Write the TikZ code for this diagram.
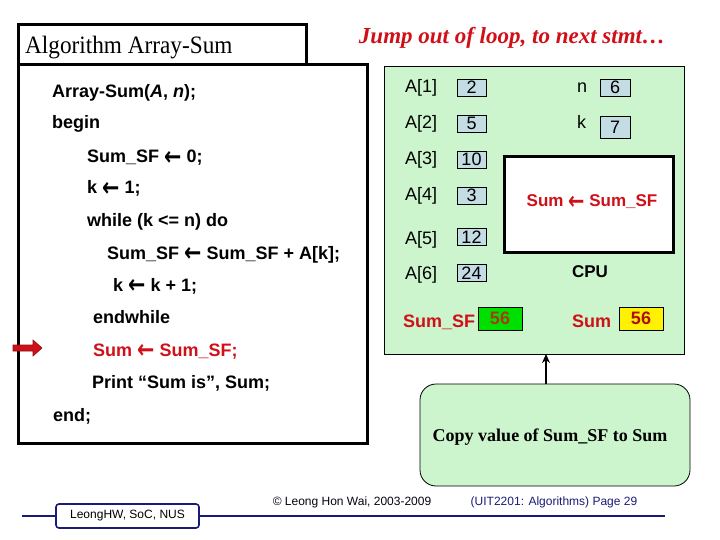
\documentclass[tikz,border=0pt]{standalone}
\usepackage{fontspec}
\setmainfont{Liberation Serif}
\setsansfont{Liberation Sans}
\newfontfamily\arrowfont{DejaVu Sans}
\usetikzlibrary{arrows.meta}
\definecolor{codered}{HTML}{D01018}
\definecolor{memgreen}{HTML}{CDF5CD}
\definecolor{cellblue}{HTML}{C4DCE4}
\definecolor{brightgreen}{HTML}{00E000}
\definecolor{navy}{HTML}{1A1A78}
\definecolor{brownred}{HTML}{A83A10}
\newcommand{\fs}[1]{\fontsize{#1}{#1}\selectfont}
\newcommand{\la}{\raisebox{-2.5pt}{\scalebox{1.15}[1.45]{\arrowfont\bfseries ←}}}
\tikzset{
  codeline/.style={anchor=base west, inner sep=0pt, font=\sffamily\bfseries\fs{18}},
  memlabel/.style={anchor=base west, inner sep=0pt, font=\sffamily\fs{18}},
  cell/.style={draw=black, line width=0.8pt, fill=cellblue, minimum width=29pt, minimum height=17pt, inner sep=0pt, font=\sffamily\fs{18}},
  thickbox/.style={draw=black, line width=3pt},
  footer/.style={font=\sffamily\fs{12}, text=navy, inner sep=0pt}
}
\begin{document}
\begin{tikzpicture}[x=1pt,y=-1pt]
\useasboundingbox (0,0) rectangle (720,540);
% title box and code box
\draw[thickbox, fill=white] (18,25) rectangle (306,65);
\draw[thickbox, fill=white] (18,65) rectangle (367,443);
\node[anchor=base west, inner sep=0pt, font=\fs{25}] (title) at (25,54) {\scalebox{0.93}[1]{Algorithm Array-Sum}};
\node[anchor=base, inner sep=0pt, font=\bfseries\itshape\fs{23}, text=codered] (jump) at (512,44) {Jump out of loop, to next stmt…};
% code lines
\node[codeline] (l1) at (52,98) {Array-Sum(\textit{A}, \textit{n});};
\node[codeline] (l2) at (52,129) {begin};
\node[codeline] (l3) at (87,163) {Sum\_SF \la{} 0;};
\node[codeline] (l4) at (87,194) {k \la{} 1;};
\node[codeline] (l5) at (87,226) {while (k <= n) do};
\node[codeline] (l6) at (107,259) {Sum\_SF \la{} Sum\_SF + A[k];};
\node[codeline] (l7) at (113,291) {k \la{} k + 1;};
\node[codeline] (l8) at (93,323) {endwhile};
\node[codeline, text=codered] (l9) at (93,356) {Sum \la{} Sum\_SF;};
\node[codeline] (l10) at (92,388) {Print “Sum is”, Sum;};
\node[codeline] (l11) at (53,421) {end;};
% red pointer arrow
\draw[fill=codered, draw=codered!70!black, line width=0.6pt] (13,345) -- (33,345) -- (33,340) -- (42,348) -- (33,356) -- (33,351) -- (13,351) -- cycle;
% memory box
\draw[draw=black, line width=0.8pt, fill=memgreen] (384,66) rectangle (684,354);
\node[memlabel] (a1) at (405,93) {A[1]};
\node[memlabel] (a2) at (405,129) {A[2]};
\node[memlabel] (a3) at (405,165) {A[3]};
\node[memlabel] (a4) at (405,201) {A[4]};
\node[memlabel] (a5) at (405,244) {A[5]};
\node[memlabel] (a6) at (405,279) {A[6]};
\node[cell] (c1) at (471.5,87.5) {2};
\node[cell] (c2) at (471.5,123.5) {5};
\node[cell] (c3) at (471.5,159.5) {10};
\node[cell] (c4) at (471.5,195.5) {3};
\node[cell] (c5) at (471.5,237) {12};
\node[cell] (c6) at (471.5,273) {24};
\node[memlabel] (nl) at (577,93) {n};
\node[memlabel] (kl) at (577,129) {k};
\node[cell, minimum width=30pt] (nv) at (615,87.5) {6};
\node[cell, minimum width=30pt, minimum height=22pt] (kv) at (615,127) {7};
% CPU
\draw[thickbox, fill=white] (504,157) rectangle (673,252);
\node[inner sep=0pt, font=\sffamily\bfseries\fs{17}, text=codered] (op) at (592,202) {Sum \la{} Sum\_SF};
\node[inner sep=0pt, font=\sffamily\bfseries\fs{17}] (cpu) at (590,272) {CPU};
\node[codeline, text=codered] (sfl) at (403,327) {Sum\_SF};
\node[draw=black, line width=0.8pt, fill=brightgreen, minimum width=44pt, minimum height=23pt, inner sep=0pt, font=\sffamily\bfseries\fs{18}, text=brownred] (sfv) at (500,318.5) {56};
\node[codeline, text=codered] (suml) at (572,327) {Sum};
\node[draw=black, line width=0.8pt, fill=yellow, minimum width=44pt, minimum height=23pt, inner sep=0pt, font=\sffamily\bfseries\fs{18}, text=codered!85!black] (sumv) at (641,318.5) {56};
% callout
\node[draw=black, line width=0.8pt, fill=memgreen, rounded corners=16pt, minimum width=270pt, minimum height=102pt, inner sep=0pt] (note) at (555,435) {};
\node[inner sep=0pt, font=\bfseries\fs{18}] (notetext) at (550,437) {Copy value of Sum\_SF to Sum};
\coordinate (memb) at (546,354);
\draw[line width=2pt, -{Stealth[length=9pt,width=8pt]}] (note.north -| memb) -- (memb);
% footer
\draw[navy, line width=2pt] (22,516) -- (665,516);
\node[draw=navy, line width=1.6pt, fill=white, rounded corners=3pt, minimum width=143pt, minimum height=24pt, inner sep=0pt, font=\sffamily\fs{12}] (org) at (127.5,516) {LeongHW, SoC, NUS};
\node[footer, text=black!85!navy] (copy) at (352,502) {© Leong Hon Wai, 2003-2009};
\node[footer] (page) at (554,502) {(UIT2201: Algorithms) Page 29};
\end{tikzpicture}
\end{document}
